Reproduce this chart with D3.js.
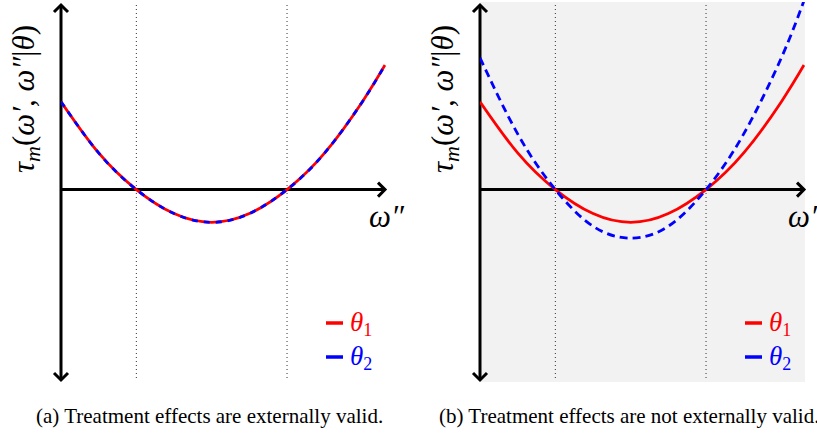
<!DOCTYPE html>
<html>
<head>
<meta charset="utf-8">
<script src="https://cdn.jsdelivr.net/npm/d3@7"></script>
<style>
  body { margin: 0; background: #fff; }
  svg { display: block; }
</style>
</head>
<body>
<svg width="817" height="433"></svg>
<script>
const svg = d3.select('svg');
const serif = '"Liberation Serif", "Times New Roman", Times, "DejaVu Serif", serif';

// values (omega'' on x, tau_m on y)
const omega = [0, 0.5, 1, 1.5, 2, 2.5, 3, 3.5, 4, 4.3];
const tauTheta1 = [3, 1.25, 0, -0.82, -1.12, -0.82, 0, 1.25, 3, 4.25];
const tauTheta2Valid = [3, 1.25, 0, -0.82, -1.12, -0.82, 0, 1.25, 3, 4.25];
const tauTheta2Invalid = [4.5, 1.9, 0, -1.25, -1.66, -1.25, 0, 1.9, 4.5, 6.45];
const roots = [1, 3];
const captions = ["(a) Treatment effects are externally valid.",
                  "(b) Treatment effects are not externally valid."];
const legendSubs = ["1", "2"];
const colors = ["#ff0000", "#0000ff"];

const panels = [
  {x0: 61, shade: false, blue: tauTheta2Valid, dash: "6,6", capX: 36, legX: 326},
  {x0: 480, shade: true, blue: tauTheta2Invalid, dash: "8,5", capX: 439, legX: 745}
];

const y = d3.scaleLinear().domain([-6.5, 6.3]).range([380, 5]);

panels.forEach((p, k) => {
  const x = d3.scaleLinear().domain([0, 4.3]).range([p.x0, p.x0 + 324]);
  const g = svg.append('g');

  if (p.shade) {
    g.append('rect')
      .attr('x', p.x0).attr('y', 2)
      .attr('width', 325).attr('height', 380)
      .attr('fill', '#f2f2f2');
  }

  g.append('clipPath').attr('id', 'clip' + k)
    .append('rect').attr('x', p.x0).attr('y', 2).attr('width', 325).attr('height', 380);

  // dotted lines at the roots
  g.selectAll('.root').data(roots).enter().append('line')
    .attr('x1', d => x(d)).attr('x2', d => x(d))
    .attr('y1', y.range()[1]).attr('y2', y.range()[0])
    .attr('stroke', '#333').attr('stroke-width', 1)
    .attr('stroke-dasharray', '1,3');

  // axes
  const ax = g.append('g').attr('stroke', '#000').attr('stroke-width', 3).attr('fill', 'none');
  ax.append('line').attr('x1', x(0)).attr('x2', x(0)).attr('y1', y.range()[1]).attr('y2', y.range()[0]);
  ax.append('line').attr('x1', x(0)).attr('x2', x.range()[1]).attr('y1', y(0)).attr('y2', y(0));
  const xt = x.range()[1], yt = y.range()[1], yb = y.range()[0];
  ax.append('path').attr('d', `M${xt - 7},${y(0) - 7}L${xt},${y(0)}L${xt - 7},${y(0) + 7}`);
  ax.append('path').attr('d', `M${x(0) - 7},${yt + 7}L${x(0)},${yt}L${x(0) + 7},${yt + 7}`);
  ax.append('path').attr('d', `M${x(0) - 7},${yb - 7}L${x(0)},${yb}L${x(0) + 7},${yb - 7}`);

  // curves
  const line = d3.line().x((d, i) => x(omega[i])).y(d => y(d)).curve(d3.curveNatural);
  const curves = g.append('g').attr('clip-path', `url(#clip${k})`);
  curves.append('path').datum(tauTheta1)
    .attr('d', line).attr('fill', 'none')
    .attr('stroke', colors[0]).attr('stroke-width', 2.8);
  curves.append('path').datum(p.blue)
    .attr('d', line).attr('fill', 'none')
    .attr('stroke', colors[1]).attr('stroke-width', 2.8)
    .attr('stroke-dasharray', p.dash);

  // axis labels
  const ylab = g.append('text')
    .attr('font-family', serif).attr('font-style', 'italic')
    .attr('transform', `translate(${p.x0 - 27},99) rotate(-90)`)
    .attr('text-anchor', 'middle').attr('font-size', 31);
  ylab.append('tspan').text('τ');
  ylab.append('tspan').attr('font-size', 22).attr('dy', 6).text('m');
  ylab.append('tspan').attr('dy', -6).attr('font-style', 'normal').text('(');
  ylab.append('tspan').text('ω′, ω″');
  ylab.append('tspan').attr('font-style', 'normal').text('|');
  ylab.append('tspan').text('θ');
  ylab.append('tspan').attr('font-style', 'normal').text(')');

  g.append('text')
    .attr('font-family', serif).attr('font-style', 'italic')
    .attr('x', x.range()[1] - 16).attr('y', 227)
    .attr('font-size', 31).text('ω″');

  // legend
  legendSubs.forEach((s, i) => {
    const ly = 323 + i * 34;
    g.append('line')
      .attr('x1', p.legX).attr('x2', p.legX + 17)
      .attr('y1', ly).attr('y2', ly)
      .attr('stroke', colors[i]).attr('stroke-width', 3.5);
    const t = g.append('text')
      .attr('font-family', serif).attr('font-style', 'italic')
      .attr('x', p.legX + 24).attr('y', ly + 8)
      .attr('fill', colors[i]).attr('font-size', 27);
    t.append('tspan').text('θ');
    t.append('tspan').attr('font-style', 'normal').attr('font-size', 18).attr('dy', 5).text(s);
  });

  // caption
  svg.append('text')
    .attr('font-family', serif).attr('font-size', 21)
    .attr('x', p.capX).attr('y', 423).text(captions[k]);
});
</script>
</body>
</html>
